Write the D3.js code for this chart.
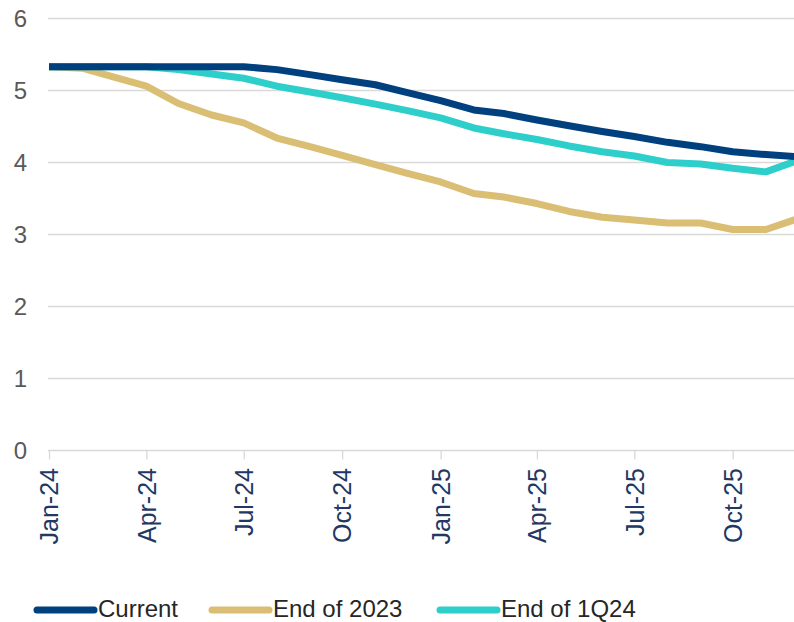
<!DOCTYPE html>
<html lang="en">

<head>
  <meta charset="UTF-8" />
  <title>Rate path</title>
  <style>
    body { margin: 0; background: #fff; }
    text { font-family: "Liberation Sans", Arial, sans-serif; }
  </style>
  <script src="https://d3js.org/d3.v7.min.js"></script>
</head>

<body>
  <div id="chart"></div>

  <script>
    var w = 794;
    var h = 622;

    // monthly points, Jan-24 .. Dec-25
    var months = ["2024-01", "2024-02", "2024-03", "2024-04", "2024-05", "2024-06",
      "2024-07", "2024-08", "2024-09", "2024-10", "2024-11", "2024-12",
      "2025-01", "2025-02", "2025-03", "2025-04", "2025-05", "2025-06",
      "2025-07", "2025-08", "2025-09", "2025-10", "2025-11", "2025-12"];

    var current = [5.33, 5.33, 5.33, 5.33, 5.33, 5.33, 5.33, 5.29, 5.22, 5.15, 5.08, 4.97,
      4.86, 4.73, 4.68, 4.59, 4.51, 4.43, 4.36, 4.28, 4.22, 4.15, 4.11, 4.08];

    var end2023 = [5.33, 5.31, 5.19, 5.06, 4.82, 4.66, 4.55, 4.34, 4.22, 4.10, 3.97, 3.85,
      3.73, 3.57, 3.52, 3.43, 3.32, 3.24, 3.20, 3.16, 3.16, 3.07, 3.07, 3.22];

    var end1q24 = [5.33, 5.33, 5.33, 5.33, 5.29, 5.23, 5.17, 5.06, 4.98, 4.90, 4.81, 4.72,
      4.62, 4.48, 4.40, 4.32, 4.23, 4.15, 4.09, 4.00, 3.98, 3.92, 3.87, 4.03];

    var seriesNames = ["Current", "End of 2023", "End of 1Q24"];
    var seriesColors = ["#00407f", "#d9be74", "#2ecfcb"];
    var yTicks = [0, 1, 2, 3, 4, 5, 6];
    var xTickMonths = ["2024-01", "2024-04", "2024-07", "2024-10", "2025-01", "2025-04", "2025-07", "2025-10"];

    var parse = d3.timeParse("%Y-%m");
    var fmt = d3.timeFormat("%b-%y");

    var series = [current, end2023, end1q24].map(function(vals, i) {
      return {
        name: seriesNames[i],
        color: seriesColors[i],
        values: vals.map(function(v, j) {
          return { date: parse(months[j]), value: v };
        })
      };
    });

    var x = d3.scaleTime()
      .domain([parse("2024-01"), parse("2025-12")])
      .range([49, 798]);

    var y = d3.scaleLinear()
      .domain([0, 6])
      .range([450.5, 18.5]);

    var svg = d3.select("#chart").append("svg")
      .attr("width", w)
      .attr("height", h);

    // gridlines
    svg.append("g")
      .selectAll("line")
      .data(yTicks.slice(1))
      .enter()
      .append("line")
      .attr("x1", 48)
      .attr("x2", w)
      .attr("y1", function(d) { return y(d); })
      .attr("y2", function(d) { return y(d); })
      .attr("stroke", "#d9d9d9")
      .attr("stroke-width", 1.3);

    // y labels
    svg.append("g")
      .selectAll("text")
      .data(yTicks)
      .enter()
      .append("text")
      .attr("x", 27)
      .attr("y", function(d) { return y(d); })
      .attr("dy", "0.36em")
      .attr("text-anchor", "end")
      .attr("fill", "#595959")
      .style("font-size", "24px")
      .text(function(d) { return d; });

    // x axis
    var xAxis = d3.axisBottom(x)
      .tickValues(xTickMonths.map(parse))
      .tickSize(9)
      .tickSizeOuter(0)
      .tickFormat(fmt);

    var gx = svg.append("g")
      .attr("transform", "translate(0," + y(0) + ")")
      .call(xAxis);

    gx.select(".domain")
      .attr("d", "M48,0H" + w)
      .attr("stroke", "#d9d9d9")
      .attr("stroke-width", 1.3);

    gx.selectAll(".tick line")
      .attr("stroke", "#d9d9d9")
      .attr("stroke-width", 1.3);

    gx.selectAll(".tick text")
      .attr("transform", "rotate(-90)")
      .attr("x", -17.5)
      .attr("y", 0)
      .attr("dy", "0.35em")
      .attr("text-anchor", "end")
      .attr("fill", "#1f3864")
      .style("font-family", "'Liberation Sans', Arial, sans-serif")
      .style("font-size", "25px");

    // lines
    var line = d3.line()
      .x(function(d) { return x(d.date); })
      .y(function(d) { return y(d.value); });

    svg.append("clipPath")
      .attr("id", "plot")
      .append("rect")
      .attr("x", 48)
      .attr("y", 0)
      .attr("width", w - 48)
      .attr("height", 460);

    svg.append("g")
      .attr("clip-path", "url(#plot)")
      .selectAll("path")
      .data([series[1], series[2], series[0]])
      .enter()
      .append("path")
      .attr("d", function(d) { return line(d.values); })
      .attr("fill", "none")
      .attr("stroke", function(d) { return d.color; })
      .attr("stroke-width", 7)
      .attr("stroke-linejoin", "round");

    // legend
    var legendX = [37, 212, 440];
    var leg = svg.append("g")
      .selectAll("g")
      .data(series)
      .enter()
      .append("g")
      .attr("transform", function(d, i) { return "translate(" + legendX[i] + ",610)"; });

    leg.append("line")
      .attr("x1", 0)
      .attr("x2", 57)
      .attr("stroke", function(d) { return d.color; })
      .attr("stroke-width", 7)
      .attr("stroke-linecap", "round");

    leg.append("text")
      .attr("x", 61)
      .attr("dy", "0.3em")
      .attr("fill", "#262626")
      .style("font-size", "24px")
      .text(function(d) { return d.name; });
  </script>

</body>

</html>
